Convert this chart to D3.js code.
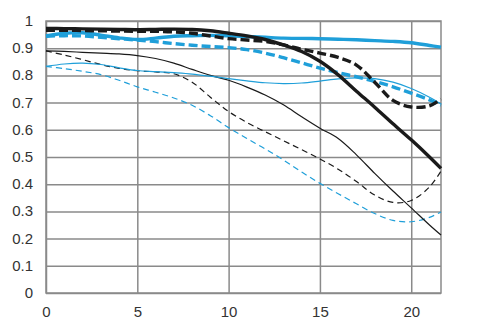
<!DOCTYPE html>
<html>
<head>
<meta charset="utf-8">
<script src="https://cdn.jsdelivr.net/npm/d3@7"></script>
<style>
  html, body { margin: 0; padding: 0; background: #fff; }
  svg { display: block; }
  .tick text { font-family: "Liberation Sans", Arial, sans-serif; font-size: 15px; fill: #333; }
</style>
</head>
<body>
<svg id="chart" width="488" height="326"></svg>
<script>
// Image height (mm from centre) at which contrast is sampled
const positions = [0, 1, 2, 3, 4, 5, 6, 7, 8, 9, 10, 11, 12, 13, 14, 15, 16, 17, 18, 19, 20, 21, 21.63];

// MTF contrast values
const thickBlackSolid = [0.973, 0.972, 0.971, 0.970, 0.969, 0.968, 0.969, 0.970, 0.969, 0.964, 0.955, 0.945, 0.932, 0.912, 0.888, 0.852, 0.802, 0.742, 0.683, 0.622, 0.563, 0.500, 0.458];
const thickBlackDashed = [0.966, 0.966, 0.965, 0.964, 0.963, 0.962, 0.962, 0.960, 0.955, 0.945, 0.935, 0.930, 0.925, 0.912, 0.896, 0.882, 0.866, 0.838, 0.775, 0.708, 0.684, 0.688, 0.713];
const thickBlueSolid = [0.945, 0.955, 0.957, 0.948, 0.938, 0.932, 0.937, 0.944, 0.946, 0.947, 0.946, 0.943, 0.940, 0.937, 0.936, 0.935, 0.933, 0.931, 0.928, 0.925, 0.920, 0.910, 0.904];
const thickBlueDashed = [0.944, 0.946, 0.945, 0.940, 0.935, 0.930, 0.924, 0.917, 0.911, 0.906, 0.902, 0.895, 0.882, 0.865, 0.846, 0.827, 0.810, 0.795, 0.778, 0.758, 0.735, 0.710, 0.690];
const thinBlueSolid = [0.833, 0.842, 0.845, 0.840, 0.828, 0.818, 0.814, 0.810, 0.805, 0.797, 0.788, 0.780, 0.773, 0.770, 0.772, 0.779, 0.787, 0.791, 0.788, 0.775, 0.752, 0.720, 0.695];
const thinBlackSolid = [0.890, 0.888, 0.885, 0.882, 0.879, 0.873, 0.862, 0.845, 0.822, 0.800, 0.782, 0.757, 0.728, 0.692, 0.648, 0.606, 0.568, 0.508, 0.440, 0.375, 0.313, 0.250, 0.213];
const thinBlackDashed = [0.890, 0.875, 0.858, 0.840, 0.826, 0.817, 0.813, 0.806, 0.775, 0.720, 0.667, 0.627, 0.593, 0.560, 0.527, 0.493, 0.455, 0.410, 0.360, 0.333, 0.340, 0.390, 0.448];
const thinBlueDashed = [0.833, 0.825, 0.815, 0.803, 0.782, 0.758, 0.738, 0.717, 0.690, 0.652, 0.608, 0.568, 0.530, 0.489, 0.445, 0.403, 0.365, 0.328, 0.292, 0.267, 0.262, 0.278, 0.298];

// Tick labels
const xTicks = [0, 5, 10, 15, 20];
const yTicks = [0, 0.1, 0.2, 0.3, 0.4, 0.5, 0.6, 0.7, 0.8, 0.9, 1];

const BLUE = "#1f9fd9";
const BLACK = "#1a1a1a";

const margin = { top: 21, right: 47, bottom: 33, left: 46 };
const W = 488, H = 326;
const iw = W - margin.left - margin.right;
const ih = H - margin.top - margin.bottom;

const svg = d3.select("#chart");
const g = svg.append("g").attr("transform", `translate(${margin.left},${margin.top})`);

const x = d3.scaleLinear().domain([0, 21.63]).range([0, iw]);
const y = d3.scaleLinear().domain([0, 1]).range([ih, 0]);

// Grid + labels
const yAxis = g.append("g")
  .call(d3.axisLeft(y).tickValues(yTicks).tickSize(-iw).tickPadding(13)
    .tickFormat(d => d === 0 ? "0" : d === 1 ? "1" : d3.format(".1f")(d)));
yAxis.select(".domain").remove();
yAxis.selectAll("line").attr("stroke", "#8a8a8a").attr("stroke-width", 1.5);
yAxis.selectAll("text").attr("dy", "0.3em");

const xAxis = g.append("g").attr("transform", `translate(0,${ih})`)
  .call(d3.axisBottom(x).tickValues(xTicks).tickSize(-ih).tickPadding(13).tickFormat(d3.format("d")));
xAxis.select(".domain").remove();
xAxis.selectAll("line").attr("stroke", "#8a8a8a").attr("stroke-width", 1.5);

// Frame
g.append("rect").attr("x", 0).attr("y", 0).attr("width", iw).attr("height", ih)
  .attr("fill", "none").attr("stroke", "#8a8a8a").attr("stroke-width", 1.5);

const line = d3.line()
  .x((d, i) => x(positions[i]))
  .y(d => y(d))
  .curve(d3.curveCatmullRom.alpha(0.5));

const series = [
  { values: thinBlueDashed, color: BLUE, width: 1.2, dash: "6,4" },
  { values: thinBlackDashed, color: BLACK, width: 1.2, dash: "6,4" },
  { values: thinBlackSolid, color: BLACK, width: 1.2, dash: null },
  { values: thinBlueSolid, color: BLUE, width: 1.2, dash: null },
  { values: thickBlueDashed, color: BLUE, width: 3.4, dash: "9,4" },
  { values: thickBlueSolid, color: BLUE, width: 3.4, dash: null },
  { values: thickBlackDashed, color: BLACK, width: 3.4, dash: "9,4" },
  { values: thickBlackSolid, color: BLACK, width: 3.4, dash: null }
];

g.selectAll("path.mtf").data(series).join("path")
  .attr("class", "mtf")
  .attr("d", d => line(d.values))
  .attr("fill", "none")
  .attr("stroke", d => d.color)
  .attr("stroke-width", d => d.width)
  .attr("stroke-dasharray", d => d.dash);
</script>
</body>
</html>
